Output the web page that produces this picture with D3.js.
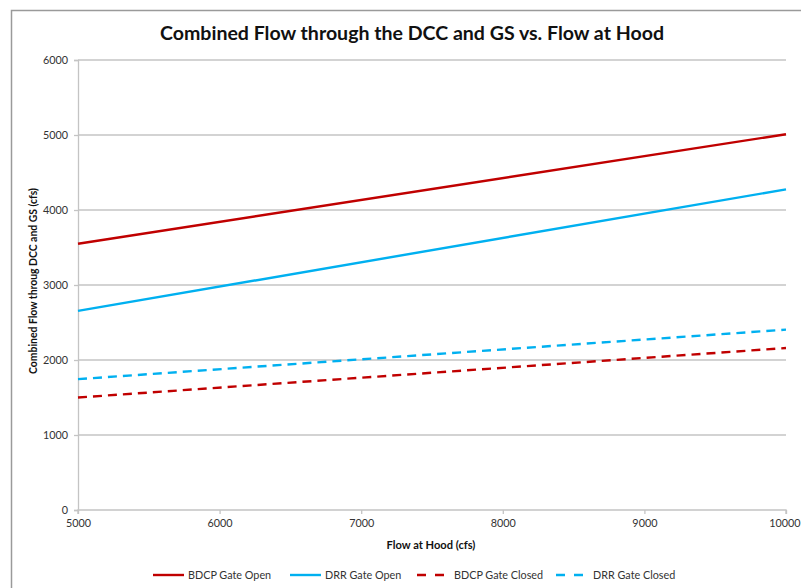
<!DOCTYPE html>
<html><head><meta charset="utf-8">
<script src="https://cdn.jsdelivr.net/npm/d3@7"></script>
<style>
html,body{margin:0;padding:0;background:#fff;}
svg{display:block;}
text{font-family:Lato,"Open Sans",sans-serif;}
</style></head>
<body>
<script>
const flowAtHood = [5000, 10000];
const bdcpGateOpen = [3550, 5010];
const drrGateOpen = [2655, 4275];
const bdcpGateClosed = [1500, 2160];
const drrGateClosed = [1745, 2405];
const xTicks = [5000, 6000, 7000, 8000, 9000, 10000];
const yTicks = [0, 1000, 2000, 3000, 4000, 5000, 6000];
const seriesNames = ["BDCP Gate Open", "DRR Gate Open", "BDCP Gate Closed", "DRR Gate Closed"];
const seriesColors = ["#C00000", "#00B0F0", "#C00000", "#00B0F0"];
const seriesDashed = [false, false, true, true];
const seriesValues = [bdcpGateOpen, drrGateOpen, bdcpGateClosed, drrGateClosed];

const W = 801, H = 588;
const svg = d3.select("body").append("svg").attr("width", W).attr("height", H);
svg.append("rect").attr("width", W).attr("height", H).attr("fill", "#fff");

// frame
svg.append("path").attr("d", "M11.5,588 L11.5,10.5 L801,10.5")
  .attr("fill", "none").attr("stroke", "#9a9a9a").attr("stroke-width", 1.5);

const x = d3.scaleLinear().domain([5000, 10000]).range([78, 786]);
const y = d3.scaleLinear().domain([0, 6000]).range([510, 60]);

// gridlines
svg.append("g").selectAll("line").data(yTicks.filter(d => d > 0)).join("line")
  .attr("x1", 78).attr("x2", 786)
  .attr("y1", d => y(d)).attr("y2", d => y(d))
  .attr("stroke", "#c4c4c4").attr("stroke-width", 1.3);

// y axis
const yAxis = svg.append("g").attr("transform", "translate(78,0)")
  .call(d3.axisLeft(y).tickValues(yTicks).tickSize(4).tickPadding(6).tickFormat(d3.format("d")));
yAxis.selectAll("path,line").attr("stroke", "#c4c4c4").attr("stroke-width", 1.3);
yAxis.selectAll("text").attr("font-size", 10.8).attr("fill", "#333");

// x axis
const xAxis = svg.append("g").attr("transform", "translate(0,510)")
  .call(d3.axisBottom(x).tickValues(xTicks).tickSize(4).tickPadding(5).tickFormat(d3.format("d")));
xAxis.select(".domain").attr("d", "M78,4V0H786V4");
xAxis.selectAll("path,line").attr("stroke", "#c4c4c4").attr("stroke-width", 1.3);
xAxis.selectAll("text").attr("font-size", 10.8).attr("fill", "#333");
xAxis.selectAll(".tick").filter(d => d === 10000).select("text").attr("text-anchor", "end").attr("x", 14);

// lines
const line = d3.line().x((d, i) => x(flowAtHood[i])).y(d => y(d));
seriesValues.forEach((vals, k) => {
  svg.append("path").datum(vals).attr("d", line)
    .attr("fill", "none").attr("stroke", seriesColors[k]).attr("stroke-width", 2.4)
    .attr("stroke-dasharray", seriesDashed[k] ? "9,6" : null);
});

// title
svg.append("text").attr("x", 412).attr("y", 40).attr("text-anchor", "middle")
  .attr("font-size", 19).attr("font-weight", "bold").attr("fill", "#111")
  .attr("textLength", 504).attr("lengthAdjust", "spacingAndGlyphs")
  .text("Combined Flow through the DCC and GS vs. Flow at Hood");

// axis titles
svg.append("text").attr("x", 431).attr("y", 549).attr("text-anchor", "middle")
  .attr("font-size", 11.1).attr("font-weight", "bold").attr("fill", "#111")
  .text("Flow at Hood (cfs)");
svg.append("text").attr("transform", "translate(37,281) rotate(-90)").attr("text-anchor", "middle")
  .attr("font-size", 10.4).attr("font-weight", "bold").attr("fill", "#111")
  .text("Combined Flow throug DCC and GS (cfs)");

// legend
const legendX = [153, 290, 417, 556];
seriesNames.forEach((name, k) => {
  const g = svg.append("g").attr("transform", `translate(${legendX[k]},575)`);
  g.append("line").attr("x1", 0).attr("y1", 0).attr("y2", 0)
    .attr("x2", seriesDashed[k] ? 27 : 31)
    .attr("stroke", seriesColors[k]).attr("stroke-width", 2.4)
    .attr("stroke-dasharray", seriesDashed[k] ? "9,9" : null);
  g.append("text").attr("x", seriesDashed[k] ? 37 : 35).attr("y", 4)
    .attr("font-size", 10.8).attr("fill", "#333").text(name);
});
</script>
</body></html>
